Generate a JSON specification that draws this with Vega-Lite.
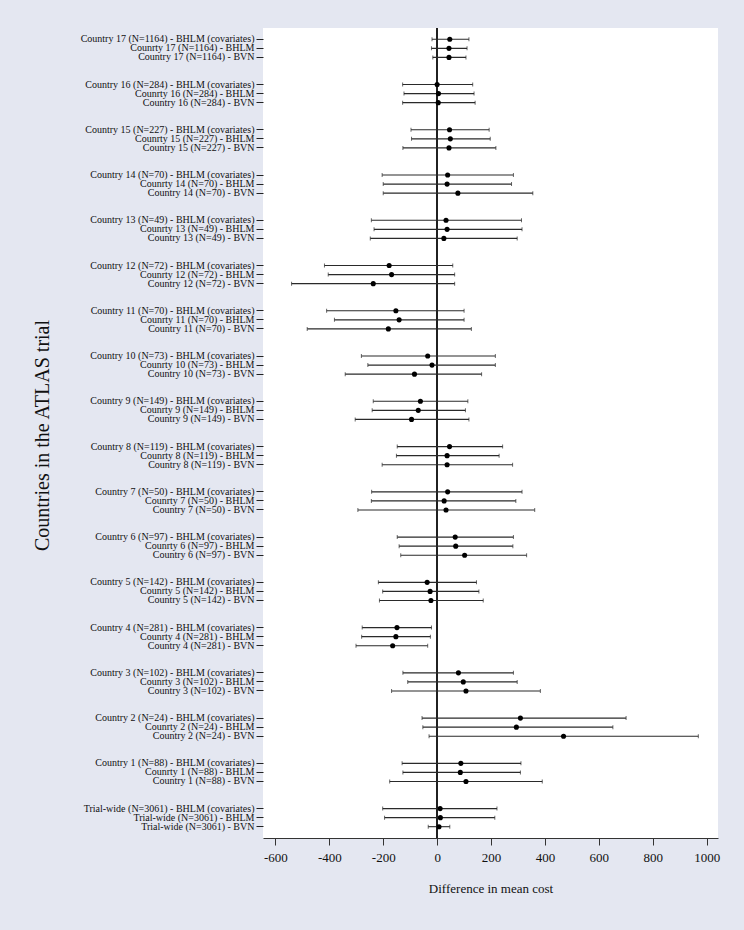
{
  "$schema": "https://vega.github.io/schema/vega-lite/v6.json",
  "width": 455,
  "height": 810,
  "autosize": "none",
  "padding": {"left": 263, "top": 28, "right": 26, "bottom": 92},
  "background": "#e4e7f1",
  "config": {
    "view": {"stroke": null, "fill": "white"},
    "font": "Liberation Serif"
  },
  "datasets": {
    "rows": [
      {"label": "Country 17 (N=1164) - BHLM (covariates)", "est": 47, "lo": -19, "hi": 118},
      {"label": "Counrty 17 (N=1164) - BHLM", "est": 44, "lo": -21, "hi": 111},
      {"label": "Country 17 (N=1164) - BVN", "est": 44, "lo": -16, "hi": 107},
      {"label": "Country 16 (N=284) - BHLM (covariates)", "est": 0, "lo": -128, "hi": 132},
      {"label": "Counrty 16 (N=284) - BHLM", "est": 5, "lo": -123, "hi": 137},
      {"label": "Country 16 (N=284) - BVN", "est": 4, "lo": -128, "hi": 141},
      {"label": "Country 15 (N=227) - BHLM (covariates)", "est": 46, "lo": -97, "hi": 193},
      {"label": "Counrty 15 (N=227) - BHLM", "est": 49, "lo": -95, "hi": 197},
      {"label": "Country 15 (N=227) - BVN", "est": 44, "lo": -127, "hi": 218},
      {"label": "Country 14 (N=70) - BHLM (covariates)", "est": 39, "lo": -204, "hi": 283},
      {"label": "Counrty 14 (N=70) - BHLM", "est": 37, "lo": -200, "hi": 276},
      {"label": "Country 14 (N=70) - BVN", "est": 77, "lo": -200, "hi": 355},
      {"label": "Country 13 (N=49) - BHLM (covariates)", "est": 33, "lo": -244, "hi": 313},
      {"label": "Counrty 13 (N=49) - BHLM", "est": 37, "lo": -234, "hi": 315},
      {"label": "Country 13 (N=49) - BVN", "est": 25, "lo": -248, "hi": 297},
      {"label": "Country 12 (N=72) - BHLM (covariates)", "est": -178, "lo": -418, "hi": 58},
      {"label": "Counrty 12 (N=72) - BHLM", "est": -169, "lo": -404, "hi": 65},
      {"label": "Country 12 (N=72) - BVN", "est": -237, "lo": -540, "hi": 65},
      {"label": "Country 11 (N=70) - BHLM (covariates)", "est": -153, "lo": -410, "hi": 100},
      {"label": "Counrty 11 (N=70) - BHLM", "est": -141, "lo": -381, "hi": 100},
      {"label": "Country 11 (N=70) - BVN", "est": -181, "lo": -482, "hi": 127},
      {"label": "Country 10 (N=73) - BHLM (covariates)", "est": -35, "lo": -281, "hi": 216},
      {"label": "Counrty 10 (N=73) - BHLM", "est": -19, "lo": -257, "hi": 216},
      {"label": "Country 10 (N=73) - BVN", "est": -84, "lo": -341, "hi": 165},
      {"label": "Country 9 (N=149) - BHLM (covariates)", "est": -62, "lo": -237, "hi": 114},
      {"label": "Counrty 9 (N=149) - BHLM", "est": -70, "lo": -241, "hi": 105},
      {"label": "Country 9 (N=149) - BVN", "est": -95, "lo": -304, "hi": 118},
      {"label": "Country 8 (N=119) - BHLM (covariates)", "est": 46, "lo": -148, "hi": 243},
      {"label": "Counrty 8 (N=119) - BHLM", "est": 37, "lo": -151, "hi": 230},
      {"label": "Country 8 (N=119) - BVN", "est": 37, "lo": -204, "hi": 280},
      {"label": "Country 7 (N=50) - BHLM (covariates)", "est": 39, "lo": -243, "hi": 315},
      {"label": "Counrty 7 (N=50) - BHLM", "est": 26, "lo": -244, "hi": 292},
      {"label": "Country 7 (N=50) - BVN", "est": 33, "lo": -294, "hi": 362},
      {"label": "Country 6 (N=97) - BHLM (covariates)", "est": 67, "lo": -148, "hi": 283},
      {"label": "Counrty 6 (N=97) - BHLM", "est": 69, "lo": -141, "hi": 281},
      {"label": "Country 6 (N=97) - BVN", "est": 102, "lo": -135, "hi": 332},
      {"label": "Country 5 (N=142) - BHLM (covariates)", "est": -37, "lo": -218, "hi": 146},
      {"label": "Counrty 5 (N=142) - BHLM", "est": -26, "lo": -202, "hi": 155},
      {"label": "Country 5 (N=142) - BVN", "est": -23, "lo": -214, "hi": 171},
      {"label": "Country 4 (N=281) - BHLM (covariates)", "est": -149, "lo": -278, "hi": -21},
      {"label": "Counrty 4 (N=281) - BHLM", "est": -153, "lo": -280, "hi": -25},
      {"label": "Country 4 (N=281) - BVN", "est": -165, "lo": -301, "hi": -35},
      {"label": "Country 3 (N=102) - BHLM (covariates)", "est": 79, "lo": -127, "hi": 283},
      {"label": "Counrty 3 (N=102) - BHLM", "est": 97, "lo": -109, "hi": 297},
      {"label": "Country 3 (N=102) - BVN", "est": 107, "lo": -169, "hi": 383},
      {"label": "Country 2 (N=24) - BHLM (covariates)", "est": 309, "lo": -56, "hi": 701},
      {"label": "Counrty 2 (N=24) - BHLM", "est": 294, "lo": -53, "hi": 652},
      {"label": "Country 2 (N=24) - BVN", "est": 469, "lo": -30, "hi": 969},
      {"label": "Country 1 (N=88) - BHLM (covariates)", "est": 88, "lo": -130, "hi": 311},
      {"label": "Counrty 1 (N=88) - BHLM", "est": 86, "lo": -127, "hi": 309},
      {"label": "Country 1 (N=88) - BVN", "est": 107, "lo": -176, "hi": 390},
      {"label": "Trial-wide (N=3061) - BHLM (covariates)", "est": 11, "lo": -202, "hi": 222},
      {"label": "Trial-wide (N=3061) - BHLM", "est": 12, "lo": -195, "hi": 214},
      {"label": "Trial-wide (N=3061) - BVN", "est": 7, "lo": -33, "hi": 47}
    ]
  },
  "data": {"name": "rows"},
  "encoding": {
    "y": {
      "field": "label",
      "type": "ordinal",
      "sort": null,
      "scale": {
        "type": "band",
        "paddingInner": 0,
        "paddingOuter": 0.75,
        "domain": [
          "Country 17 (N=1164) - BHLM (covariates)", "Counrty 17 (N=1164) - BHLM", "Country 17 (N=1164) - BVN", "g17a", "g17b",
          "Country 16 (N=284) - BHLM (covariates)", "Counrty 16 (N=284) - BHLM", "Country 16 (N=284) - BVN", "g16a", "g16b",
          "Country 15 (N=227) - BHLM (covariates)", "Counrty 15 (N=227) - BHLM", "Country 15 (N=227) - BVN", "g15a", "g15b",
          "Country 14 (N=70) - BHLM (covariates)", "Counrty 14 (N=70) - BHLM", "Country 14 (N=70) - BVN", "g14a", "g14b",
          "Country 13 (N=49) - BHLM (covariates)", "Counrty 13 (N=49) - BHLM", "Country 13 (N=49) - BVN", "g13a", "g13b",
          "Country 12 (N=72) - BHLM (covariates)", "Counrty 12 (N=72) - BHLM", "Country 12 (N=72) - BVN", "g12a", "g12b",
          "Country 11 (N=70) - BHLM (covariates)", "Counrty 11 (N=70) - BHLM", "Country 11 (N=70) - BVN", "g11a", "g11b",
          "Country 10 (N=73) - BHLM (covariates)", "Counrty 10 (N=73) - BHLM", "Country 10 (N=73) - BVN", "g10a", "g10b",
          "Country 9 (N=149) - BHLM (covariates)", "Counrty 9 (N=149) - BHLM", "Country 9 (N=149) - BVN", "g9a", "g9b",
          "Country 8 (N=119) - BHLM (covariates)", "Counrty 8 (N=119) - BHLM", "Country 8 (N=119) - BVN", "g8a", "g8b",
          "Country 7 (N=50) - BHLM (covariates)", "Counrty 7 (N=50) - BHLM", "Country 7 (N=50) - BVN", "g7a", "g7b",
          "Country 6 (N=97) - BHLM (covariates)", "Counrty 6 (N=97) - BHLM", "Country 6 (N=97) - BVN", "g6a", "g6b",
          "Country 5 (N=142) - BHLM (covariates)", "Counrty 5 (N=142) - BHLM", "Country 5 (N=142) - BVN", "g5a", "g5b",
          "Country 4 (N=281) - BHLM (covariates)", "Counrty 4 (N=281) - BHLM", "Country 4 (N=281) - BVN", "g4a", "g4b",
          "Country 3 (N=102) - BHLM (covariates)", "Counrty 3 (N=102) - BHLM", "Country 3 (N=102) - BVN", "g3a", "g3b",
          "Country 2 (N=24) - BHLM (covariates)", "Counrty 2 (N=24) - BHLM", "Country 2 (N=24) - BVN", "g2a", "g2b",
          "Country 1 (N=88) - BHLM (covariates)", "Counrty 1 (N=88) - BHLM", "Country 1 (N=88) - BVN", "g1a", "g1b",
          "Trial-wide (N=3061) - BHLM (covariates)", "Trial-wide (N=3061) - BHLM", "Trial-wide (N=3061) - BVN"
        ]
      },
      "axis": {
        "values": [
          "Country 17 (N=1164) - BHLM (covariates)", "Counrty 17 (N=1164) - BHLM", "Country 17 (N=1164) - BVN",
          "Country 16 (N=284) - BHLM (covariates)", "Counrty 16 (N=284) - BHLM", "Country 16 (N=284) - BVN",
          "Country 15 (N=227) - BHLM (covariates)", "Counrty 15 (N=227) - BHLM", "Country 15 (N=227) - BVN",
          "Country 14 (N=70) - BHLM (covariates)", "Counrty 14 (N=70) - BHLM", "Country 14 (N=70) - BVN",
          "Country 13 (N=49) - BHLM (covariates)", "Counrty 13 (N=49) - BHLM", "Country 13 (N=49) - BVN",
          "Country 12 (N=72) - BHLM (covariates)", "Counrty 12 (N=72) - BHLM", "Country 12 (N=72) - BVN",
          "Country 11 (N=70) - BHLM (covariates)", "Counrty 11 (N=70) - BHLM", "Country 11 (N=70) - BVN",
          "Country 10 (N=73) - BHLM (covariates)", "Counrty 10 (N=73) - BHLM", "Country 10 (N=73) - BVN",
          "Country 9 (N=149) - BHLM (covariates)", "Counrty 9 (N=149) - BHLM", "Country 9 (N=149) - BVN",
          "Country 8 (N=119) - BHLM (covariates)", "Counrty 8 (N=119) - BHLM", "Country 8 (N=119) - BVN",
          "Country 7 (N=50) - BHLM (covariates)", "Counrty 7 (N=50) - BHLM", "Country 7 (N=50) - BVN",
          "Country 6 (N=97) - BHLM (covariates)", "Counrty 6 (N=97) - BHLM", "Country 6 (N=97) - BVN",
          "Country 5 (N=142) - BHLM (covariates)", "Counrty 5 (N=142) - BHLM", "Country 5 (N=142) - BVN",
          "Country 4 (N=281) - BHLM (covariates)", "Counrty 4 (N=281) - BHLM", "Country 4 (N=281) - BVN",
          "Country 3 (N=102) - BHLM (covariates)", "Counrty 3 (N=102) - BHLM", "Country 3 (N=102) - BVN",
          "Country 2 (N=24) - BHLM (covariates)", "Counrty 2 (N=24) - BHLM", "Country 2 (N=24) - BVN",
          "Country 1 (N=88) - BHLM (covariates)", "Counrty 1 (N=88) - BHLM", "Country 1 (N=88) - BVN",
          "Trial-wide (N=3061) - BHLM (covariates)", "Trial-wide (N=3061) - BHLM", "Trial-wide (N=3061) - BVN"
        ],
        "title": "Countries in the ATLAS trial",
        "titleFont": "Liberation Serif",
        "titleFontSize": 20,
        "titleFontWeight": "normal",
        "titleColor": "#111",
        "titleAngle": -90,
        "titleX": -221,
        "titleY": 407,
        "titleAlign": "center",
        "titleBaseline": "middle",
        "domain": false,
        "grid": false,
        "tickSize": 7,
        "tickColor": "#222",
        "tickWidth": 1,
        "labelFont": "Liberation Serif",
        "labelFontSize": 10,
        "labelColor": "#111",
        "labelPadding": 2,
        "labelLimit": 400,
        "labelOverlap": false
      }
    }
  },
  "layer": [
    {
      "mark": {"type": "rule", "color": "#222", "strokeWidth": 1},
      "encoding": {"x": {"datum": 0, "type": "quantitative"}, "y": null}
    },
    {
      "mark": {"type": "rule", "color": "#2a2a2a", "strokeWidth": 1.1},
      "encoding": {
        "x": {
          "field": "lo",
          "type": "quantitative",
          "scale": {"domain": [-646, 1042], "nice": false, "zero": false},
          "axis": {
            "values": [-600, -400, -200, 0, 200, 400, 600, 800, 1000],
            "labelExpr": "'' + datum.value",
            "title": "Difference in mean cost",
            "titleFont": "Liberation Serif",
            "titleFontSize": 13,
            "titleFontWeight": "normal",
            "titleColor": "#111",
            "titlePadding": 18,
            "labelFont": "Liberation Serif",
            "labelFontSize": 13,
            "labelColor": "#111",
            "labelPadding": 6,
            "tickSize": 7,
            "tickColor": "#333",
            "domainColor": "#333",
            "domainWidth": 1,
            "grid": false
          }
        },
        "x2": {"field": "hi"}
      }
    },
    {
      "mark": {"type": "tick", "color": "#2a2a2a", "size": 4, "thickness": 1},
      "encoding": {"x": {"field": "lo", "type": "quantitative"}}
    },
    {
      "mark": {"type": "tick", "color": "#2a2a2a", "size": 4, "thickness": 1},
      "encoding": {"x": {"field": "hi", "type": "quantitative"}}
    },
    {
      "mark": {"type": "point", "shape": "circle", "filled": true, "color": "black", "size": 26, "opacity": 1},
      "encoding": {"x": {"field": "est", "type": "quantitative"}}
    }
  ]
}
